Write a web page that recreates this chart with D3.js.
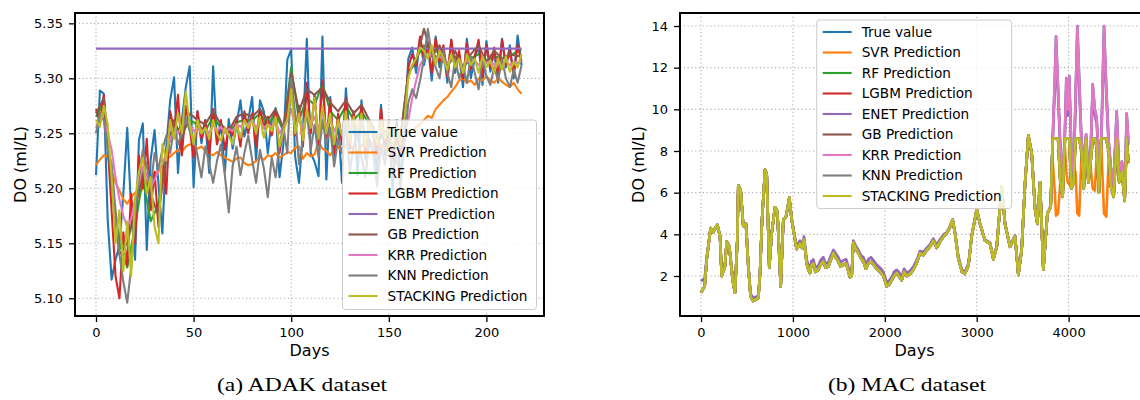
<!DOCTYPE html>
<html>
<head>
<meta charset="utf-8">
<script src="https://cdn.jsdelivr.net/npm/d3@7"></script>
<style>
  body { margin: 0; background: #fff; }
  text { font-family: "DejaVu Sans", sans-serif; fill: #000; }
</style>
</head>
<body>
<div id="my_dataviz"></div>
<script>
// series names and colours (same order in both panels)
var seriesNames = ["True value", "SVR Prediction", "RF Prediction", "LGBM Prediction", "ENET Prediction",
  "GB Prediction", "KRR Prediction", "KNN Prediction", "STACKING Prediction"]
var seriesColors = ["#1f77b4", "#ff7f0e", "#2ca02c", "#d62728", "#9467bd", "#8c564b", "#e377c2", "#7f7f7f", "#bcbd22"]

// ---------- (a) ADAK dataset ----------
var adakDays = d3.range(0, 219, 2)                 // every second day
var adakDays4 = d3.range(0, 217, 4).concat([218])  // every fourth day
var adakTicksX = [0, 50, 100, 150, 200]
var adakTicksY = [5.10, 5.15, 5.20, 5.25, 5.30, 5.35]

var adakTrue = [5.212,5.289,5.286,5.171,5.117,5.135,5.148,5.195,5.255,5.180,
  5.135,5.244,5.259,5.144,5.226,5.253,5.204,5.159,5.238,5.280,
  5.301,5.214,5.262,5.292,5.311,5.201,5.270,5.241,5.262,5.214,
  5.311,5.240,5.258,5.215,5.263,5.236,5.258,5.280,5.247,5.262,
  5.283,5.225,5.280,5.270,5.232,5.262,5.273,5.210,5.240,5.317,
  5.326,5.229,5.205,5.250,5.336,5.232,5.224,5.211,5.338,5.208,
  5.283,5.228,5.262,5.205,5.291,5.245,5.268,5.212,5.280,5.226,
  5.262,5.250,5.214,5.276,5.230,5.254,5.198,5.262,5.209,5.250,
  5.318,5.328,5.305,5.336,5.312,5.330,5.298,5.338,5.310,5.326,
  5.296,5.335,5.305,5.322,5.292,5.336,5.300,5.318,5.330,5.294,
  5.334,5.306,5.325,5.296,5.336,5.310,5.330,5.300,5.339,5.312]
var adakSvr = [5.221,5.226,5.230,5.229,5.215,5.205,5.198,5.190,5.186,5.192,
  5.196,5.194,5.200,5.205,5.210,5.213,5.216,5.222,5.226,5.229,
  5.232,5.235,5.233,5.238,5.240,5.239,5.236,5.238,5.234,5.232,
  5.230,5.233,5.230,5.228,5.226,5.224,5.227,5.228,5.223,5.221,
  5.222,5.225,5.228,5.226,5.230,5.229,5.232,5.228,5.230,5.233,
  5.232,5.237,5.238,5.227,5.232,5.229,5.231,5.243,5.236,5.234,
  5.230,5.236,5.238,5.233,5.240,5.236,5.238,5.234,5.240,5.236,
  5.238,5.241,5.237,5.240,5.236,5.239,5.235,5.241,5.246,5.250,
  5.252,5.250,5.256,5.258,5.262,5.266,5.264,5.272,5.276,5.280,
  5.283,5.288,5.292,5.298,5.300,5.296,5.298,5.294,5.300,5.298,
  5.302,5.298,5.296,5.300,5.297,5.294,5.292,5.296,5.290,5.286]
var adakRf = [5.265,5.278,5.205,5.150,5.128,5.165,5.210,5.170,5.185,5.232,
  5.258,5.250,5.262,5.258,5.252,5.265,5.255,5.250,5.260,5.262,
  5.262,5.268,5.258,5.268,5.252,5.310,5.262,5.282,5.276,5.295,
  5.270,5.262,5.275,5.262,5.270,5.258,5.242,5.250,5.238,5.245,
  5.305,5.318,5.330,5.322,5.318,5.312,5.320,5.310,5.318,5.322,
  5.316,5.320,5.318,5.320,5.325,5.326]
var adakLgbm = [5.272,5.260,5.285,5.240,5.180,5.120,5.100,5.160,5.130,5.195,
  5.150,5.230,5.200,5.245,5.180,5.215,5.165,5.225,5.195,5.270,
  5.252,5.285,5.230,5.275,5.255,5.228,5.270,5.245,5.262,5.232,
  5.272,5.240,5.262,5.235,5.255,5.248,5.262,5.238,5.270,5.250,
  5.268,5.238,5.272,5.255,5.265,5.248,5.270,5.232,5.255,5.270,
  5.300,5.248,5.275,5.238,5.296,5.250,5.285,5.240,5.298,5.245,
  5.280,5.232,5.268,5.240,5.282,5.236,5.270,5.245,5.275,5.232,
  5.262,5.255,5.230,5.272,5.240,5.262,5.225,5.258,5.232,5.265,
  5.310,5.322,5.312,5.338,5.318,5.332,5.305,5.336,5.315,5.330,
  5.302,5.335,5.310,5.325,5.300,5.332,5.308,5.320,5.335,5.302,
  5.330,5.310,5.328,5.300,5.335,5.312,5.325,5.305,5.330,5.315]
var adakEnetDays = [0, 218]
var adakEnet = [5.327, 5.327]
var adakGb = [5.268,5.282,5.200,5.140,5.150,5.180,5.215,5.195,5.175,5.230,
  5.262,5.245,5.268,5.262,5.258,5.270,5.258,5.252,5.265,5.268,
  5.265,5.272,5.262,5.272,5.255,5.305,5.270,5.290,5.285,5.292,
  5.278,5.270,5.280,5.268,5.276,5.262,5.245,5.252,5.240,5.248,
  5.305,5.315,5.345,5.320,5.330,5.310,5.325,5.308,5.322,5.330,
  5.315,5.325,5.318,5.322,5.320,5.322]
var adakKrr = [5.255,5.265,5.262,5.250,5.235,5.210,5.190,5.175,5.165,5.172,
  5.190,5.205,5.220,5.212,5.200,5.208,5.215,5.222,5.232,5.245,
  5.252,5.250,5.256,5.262,5.258,5.252,5.255,5.250,5.255,5.250,
  5.258,5.252,5.256,5.250,5.254,5.252,5.258,5.256,5.260,5.258,
  5.262,5.255,5.262,5.255,5.258,5.256,5.262,5.250,5.256,5.262,
  5.272,5.258,5.262,5.255,5.268,5.258,5.265,5.252,5.268,5.255,
  5.262,5.252,5.258,5.250,5.262,5.252,5.260,5.252,5.258,5.248,
  5.256,5.252,5.248,5.256,5.250,5.255,5.246,5.252,5.246,5.250,
  5.262,5.282,5.298,5.312,5.318,5.320,5.322,5.318,5.320,5.316,
  5.314,5.318,5.314,5.316,5.312,5.316,5.314,5.316,5.312,5.316,
  5.314,5.316,5.312,5.315,5.313,5.316,5.312,5.315,5.314,5.316]
var adakKnn = [5.250,5.268,5.262,5.235,5.222,5.180,5.140,5.115,5.096,5.128,
  5.175,5.210,5.235,5.220,5.200,5.232,5.218,5.235,5.248,5.232,
  5.255,5.240,5.250,5.265,5.252,5.245,5.230,5.210,5.238,5.222,
  5.205,5.225,5.240,5.212,5.178,5.220,5.238,5.212,5.232,5.248,
  5.226,5.205,5.235,5.218,5.192,5.228,5.210,5.240,5.256,5.232,
  5.300,5.268,5.222,5.245,5.270,5.235,5.258,5.228,5.262,5.240,
  5.255,5.220,5.245,5.232,5.258,5.215,5.238,5.250,5.228,5.210,
  5.245,5.232,5.202,5.238,5.222,5.245,5.212,5.230,5.200,5.240,
  5.278,5.290,5.282,5.298,5.318,5.345,5.322,5.310,5.300,5.325,
  5.305,5.292,5.318,5.300,5.312,5.296,5.320,5.305,5.290,5.318,
  5.302,5.294,5.310,5.298,5.318,5.300,5.292,5.308,5.296,5.312]
var adakStack = [5.262,5.256,5.275,5.258,5.210,5.150,5.180,5.125,5.170,5.120,
  5.190,5.215,5.228,5.195,5.210,5.165,5.150,5.240,5.225,5.262,
  5.245,5.268,5.250,5.288,5.258,5.240,5.262,5.250,5.255,5.245,
  5.262,5.250,5.243,5.255,5.248,5.240,5.258,5.246,5.262,5.255,
  5.262,5.250,5.265,5.246,5.258,5.252,5.265,5.238,5.252,5.262,
  5.290,5.250,5.268,5.244,5.272,5.255,5.282,5.245,5.275,5.250,
  5.268,5.240,5.262,5.248,5.270,5.242,5.265,5.250,5.268,5.238,
  5.260,5.252,5.240,5.262,5.245,5.258,5.236,5.255,5.240,5.262,
  5.300,5.312,5.318,5.328,5.325,5.318,5.330,5.312,5.325,5.318,
  5.308,5.322,5.310,5.318,5.305,5.322,5.312,5.318,5.305,5.320,
  5.310,5.316,5.305,5.318,5.308,5.320,5.306,5.315,5.310,5.322]

// ---------- (b) MAC dataset ----------
var macTicksX = [0, 1000, 2000, 3000, 4000]
var macTicksY = [2, 4, 6, 8, 10, 12, 14]
var macBaseDays = [0,40,62,105,130,178,207,225,260,280,
  308,345,370,395,406,432,460,489,515,540,
  569,624,642,664,697,715,743,769,805,831,
  867,896,925,961,
  987,1023,1040,1077,1100,1121,1135,1150,1165,1186,
  1200,1222,1245,1277,1300,1331,1355,1385,1410,1440,
  1465,1494,1520,1549,1580,1621,1640,1657,1685,1712,
  1740,1767,1795,1821,1850,1876,1910,1948,1985,2021,
  2050,2075,2100,2130,2160,2184,2210,2238,2275,2311,
  2345,2383,2420,2456,2490,2528,2565,2601,2640,2673,
  2705,2738,2764,
  2800,2840,2870,2910,2945,3000,3036,3090,3145,3181,
  3218,3272,3308,3362,3417,3453,3489,3526,3562,3598,
  3635,3660,3689,3725,3769,3805]
var macBase = [1.2,1.5,2.8,4.3,4.1,4.45,3.9,2.0,2.45,3.65,
  3.4,1.8,1.2,3.7,6.35,6.1,4.4,4.5,2.45,1.0,
  0.8,0.95,2.1,4.7,7.1,6.9,2.4,4.05,5.3,5.1,
  1.5,4.7,4.85,5.75,
  4.7,3.75,3.3,3.55,3.35,3.75,3.2,2.6,2.35,2.15,
  2.5,2.6,2.2,2.3,2.55,2.7,2.4,2.45,2.75,3.1,
  2.9,2.7,2.45,2.55,2.6,1.95,2.0,3.6,3.3,3.1,
  2.85,2.7,2.35,2.6,2.7,2.55,2.35,2.2,2.0,1.5,
  1.6,1.8,2.0,2.15,1.95,1.8,2.2,2.0,2.1,2.3,
  2.6,3.1,3.0,3.25,3.4,3.7,3.35,3.65,3.9,4.05,
  4.3,4.7,4.05,
  2.85,2.2,2.1,2.5,3.9,5.2,4.5,3.7,3.55,2.8,
  3.4,6.3,4.5,3.4,3.9,2.05,3.25,6.45,8.75,7.9,
  5.2,4.5,6.5,2.3,5.0,5.3]
var macEnetBase = [1.75,1.9,2.9,4.3,4.15,4.45,3.95,2.1,2.5,3.65,
  3.45,1.9,1.35,3.7,6.3,6.05,4.45,4.5,2.55,1.15,
  0.95,1.05,2.15,4.65,7.0,6.85,2.5,4.05,5.25,5.1,
  1.6,4.7,4.85,5.7,
  4.75,3.85,3.45,3.7,3.5,3.9,3.4,2.8,2.55,2.35,
  2.7,2.8,2.4,2.5,2.75,2.9,2.6,2.65,2.95,3.25,
  3.1,2.9,2.65,2.75,2.8,2.15,2.2,3.7,3.45,3.25,
  3.0,2.9,2.55,2.8,2.9,2.75,2.55,2.4,2.2,1.7,
  1.8,1.95,2.2,2.3,2.15,1.95,2.35,2.15,2.25,2.45,
  2.75,3.2,3.15,3.35,3.5,3.8,3.5,3.75,4.0,4.1,
  4.35,4.7,4.1,
  2.95,2.3,2.2,2.6,3.9,5.1,4.5,3.75,3.6,2.9,
  3.45,6.2,4.55,3.5,3.95,2.15,3.3,6.4,8.6,7.9,
  5.3,4.6,6.5,2.45,5.0,5.4]
// last part of the test period, where the models split apart
var macTailDays = [3827,3850,3863,3885,3910,3935,3960,3975,3990,4007,
  4030,4055,4075,4095,4115,4140,4165,4190,4215,4240,
  4262,4285,4305,4330,4355,4385,4410,4435,4460,4490,
  4523,4550,4580,4610,4632,4650]
var macTailHigh = [8.6,11.5,13.5,11.0,8.2,6.5,9.0,11.5,10.0,11.6,
  8.0,7.0,10.5,14.0,11.5,8.5,7.5,8.8,7.0,8.0,
  11.2,10.0,9.6,7.5,8.5,14.0,11.0,8.5,7.2,6.5,
  9.9,7.0,7.5,6.0,9.8,8.5]
var macTailEnet = [8.5,11.0,13.0,10.6,8.0,6.4,8.8,11.0,9.7,11.2,
  7.9,6.9,10.2,13.5,11.0,8.3,7.4,8.6,6.9,7.9,
  10.8,9.7,9.3,7.4,8.3,13.4,10.6,8.3,7.1,6.4,
  9.6,6.9,7.4,5.9,9.5,8.3]
var macTailCapped = [8.6,8.6,8.6,8.6,6.5,5.8,8.6,8.6,8.6,8.6,
  6.2,6.5,8.6,8.6,8.6,8.0,6.2,8.6,6.5,7.5,
  8.6,8.6,8.2,6.0,8.6,8.6,8.6,8.0,6.3,5.8,
  8.6,6.5,7.0,5.6,8.6,7.5]
var macTailSvr = [7.5,6.0,4.9,5.0,6.5,5.9,8.2,7.0,6.5,6.4,
  6.2,6.5,7.0,5.0,4.9,7.8,6.5,8.3,6.5,7.2,
  6.2,6.1,7.8,6.0,8.3,5.0,4.85,7.5,6.4,5.9,
  8.4,6.6,7.0,5.7,8.5,7.4]

var macDays = macBaseDays.concat(macTailDays)

// build the point lists for every series
function zipXY(xs, ys) {
  return ys.map(function(v, i) { return [xs[i], v] })
}

var adakData = [
  zipXY(adakDays, adakTrue), zipXY(adakDays, adakSvr), zipXY(adakDays4, adakRf),
  zipXY(adakDays, adakLgbm), zipXY(adakEnetDays, adakEnet), zipXY(adakDays4, adakGb),
  zipXY(adakDays, adakKrr), zipXY(adakDays, adakKnn), zipXY(adakDays, adakStack)
]
var macData = [
  zipXY(macDays, macBase.concat(macTailHigh)),
  zipXY(macDays, macBase.concat(macTailSvr)),
  zipXY(macDays, macBase.concat(macTailCapped)),
  zipXY(macDays, macBase.concat(macTailCapped)),
  zipXY(macDays, macEnetBase.concat(macTailEnet)),
  zipXY(macDays, macBase.concat(macTailCapped)),
  zipXY(macDays, macBase.concat(macTailHigh)),
  zipXY(macDays, macBase.concat(macTailCapped)),
  zipXY(macDays, macBase.concat(macTailCapped))
]

// append the svg object to the body of the page
var svg = d3.select("#my_dataviz")
  .append("svg")
    .attr("width", 1140)
    .attr("height", 400)

var panels = [
  { id: "adak", left: 75, top: 13, width: 469, height: 303,
    xDomain: [-10.76, 229.5], yDomain: [5.0839, 5.3594],
    xTicks: adakTicksX, yTicks: adakTicksY, yFormat: d3.format(".2f"), lineWidth: 2.1,
    data: adakData, yLabelX: 20, caption: "(a) ADAK dataset", captionX: 302, captionLen: 170,
    legend: { x: 342.5, y: 120, w: 194, h: 189.5 } },
  { id: "mac", left: 680, top: 13, width: 469, height: 303,
    xDomain: [-228.5, 4874.6], yDomain: [0.08, 14.624],
    xTicks: macTicksX, yTicks: macTicksY, yFormat: d3.format("d"), lineWidth: 2.6,
    data: macData, yLabelX: 638.5, caption: "(b) MAC dataset", captionX: 907, captionLen: 158,
    legend: { x: 816.7, y: 20, w: 195, h: 188.5 } }
]

panels.forEach(drawPanel)

function drawPanel(p) {
  var g = svg.append("g")
    .attr("transform", "translate(" + p.left + "," + p.top + ")")

  var x = d3.scaleLinear().domain(p.xDomain).range([0, p.width])
  var y = d3.scaleLinear().domain(p.yDomain).range([p.height, 0])

  // dotted grid
  g.selectAll(".gridx")
    .data(p.xTicks)
    .enter()
    .append("line")
      .attr("x1", function(d) { return x(d) })
      .attr("x2", function(d) { return x(d) })
      .attr("y1", 0)
      .attr("y2", p.height)
      .attr("stroke", "#b0b0b0")
      .attr("stroke-width", 1.1)
      .attr("stroke-dasharray", "1.2,2.6")
  g.selectAll(".gridy")
    .data(p.yTicks)
    .enter()
    .append("line")
      .attr("x1", 0)
      .attr("x2", p.width)
      .attr("y1", function(d) { return y(d) })
      .attr("y2", function(d) { return y(d) })
      .attr("stroke", "#b0b0b0")
      .attr("stroke-width", 1.1)
      .attr("stroke-dasharray", "1.2,2.6")

  // clip the lines to the plot area
  g.append("clipPath")
    .attr("id", "clip-" + p.id)
    .append("rect")
      .attr("width", p.width)
      .attr("height", p.height)

  var line = d3.line()
    .x(function(d) { return x(d[0]) })
    .y(function(d) { return y(d[1]) })

  g.append("g")
    .attr("clip-path", "url(#clip-" + p.id + ")")
    .selectAll("path")
    .data(p.data)
    .enter()
    .append("path")
      .attr("d", line)
      .attr("fill", "none")
      .attr("stroke", function(d, i) { return seriesColors[i] })
      .attr("stroke-width", p.lineWidth)
      .attr("stroke-linejoin", "round")

  // axes
  var xAxis = g.append("g")
    .attr("transform", "translate(0," + p.height + ")")
    .call(d3.axisBottom(x).tickValues(p.xTicks).tickSize(6).tickPadding(6).tickFormat(d3.format("d")))
  var yAxis = g.append("g")
    .call(d3.axisLeft(y).tickValues(p.yTicks).tickSize(6).tickPadding(6).tickFormat(p.yFormat))
  ;[xAxis, yAxis].forEach(function(a) {
    a.select(".domain").remove()
    a.selectAll(".tick line").attr("stroke", "#000").attr("stroke-width", 1.3)
    a.selectAll(".tick text")
      .style("font-family", "'DejaVu Sans', sans-serif")
      .style("font-size", "13px")
      .attr("fill", "#000")
  })

  // frame
  g.append("rect")
    .attr("width", p.width)
    .attr("height", p.height)
    .attr("fill", "none")
    .attr("stroke", "#000")
    .attr("stroke-width", 2)

  // axis labels
  svg.append("text")
    .attr("x", p.left + p.width / 2)
    .attr("y", 356)
    .attr("text-anchor", "middle")
    .style("font-size", "16px")
    .text("Days")
  svg.append("text")
    .attr("transform", "translate(" + p.yLabelX + "," + (p.top + p.height / 2) + ") rotate(-90)")
    .attr("text-anchor", "middle")
    .attr("dy", "0.35em")
    .style("font-size", "16px")
    .text("DO (ml/L)")

  // caption under the plot
  svg.append("text")
    .attr("x", p.captionX)
    .attr("y", 391)
    .attr("text-anchor", "middle")
    .attr("textLength", p.captionLen)
    .attr("lengthAdjust", "spacingAndGlyphs")
    .style("font-family", "'Liberation Serif', 'DejaVu Serif', serif")
    .style("font-size", "19px")
    .text(p.caption)

  // legend
  var L = p.legend
  var leg = svg.append("g")
    .attr("transform", "translate(" + L.x + "," + L.y + ")")
  leg.append("rect")
    .attr("width", L.w)
    .attr("height", L.h)
    .attr("rx", 3)
    .attr("fill", "#fff")
    .attr("fill-opacity", 0.8)
    .attr("stroke", "#cccccc")
    .attr("stroke-width", 1)
  var item = leg.selectAll(".item")
    .data(seriesNames)
    .enter()
    .append("g")
      .attr("transform", function(d, i) { return "translate(0," + (12 + i * 20.5) + ")" })
  item.append("line")
    .attr("x1", 6)
    .attr("x2", 35)
    .attr("stroke", function(d, i) { return seriesColors[i] })
    .attr("stroke-width", 2.1)
  item.append("text")
    .attr("x", 45)
    .attr("dy", "0.36em")
    .style("font-size", "13.6px")
    .text(function(d) { return d })
}
</script>
</body>
</html>
